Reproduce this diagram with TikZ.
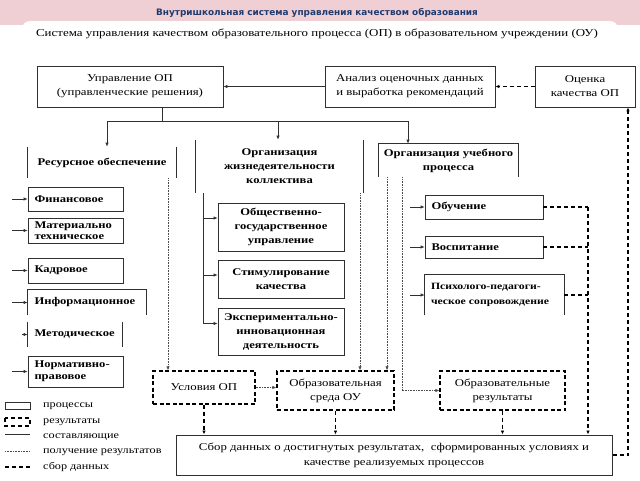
\documentclass[tikz,border=0pt]{standalone}
\usepackage{fontspec}
\setmainfont[FakeStretch=1.22]{Liberation Serif}
\newfontfamily\titlefont{DejaVu Sans}
\usetikzlibrary{arrows.meta}
\definecolor{bandpink}{HTML}{EFCFD4}
\definecolor{titleblue}{HTML}{1F3A6E}
\definecolor{lncol}{HTML}{303030}
\begin{document}
\begin{tikzpicture}[x=1pt,y=-1pt,
  box/.style={draw=lncol, line width=0.7pt, inner sep=0pt, align=center, font=\fontsize{10.5}{14}\selectfont},
  bbox/.style={box, font=\bfseries\fontsize{10.3}{14}\selectfont},
  lbox/.style={bbox, align=left, inner xsep=6.5pt},
  open/.style={draw=none},
  rbox/.style={box, draw=black, line width=1.3pt, dash pattern=on 4pt off 2.5pt},
  ln/.style={draw=lncol, line width=0.7pt},
  dsh/.style={draw=black, line width=1.1pt, dash pattern=on 4pt off 3pt},
  dot/.style={draw=black!70, line width=0.8pt, dash pattern=on 0.8pt off 0.8pt},
  arr/.style={-{Latex[length=4pt,width=3.5pt]}},
  leg/.style={anchor=west, inner sep=0pt, font=\fontsize{10}{12}\selectfont}
]
\useasboundingbox (0,0) rectangle (640,480);
\fill[white] (0,0) rectangle (640,480);
\fill[bandpink] (0,0) rectangle (640,25);
\fill[white, rounded corners=8pt] (22,21) rectangle (618,45);
\fill[white] (0,30) rectangle (640,480);

\node[font=\titlefont\bfseries\fontsize{8.9}{10}\selectfont, text=titleblue] (title) at (317,13) {Внутришкольная система управления качеством образования};
\node[font=\fontsize{10.6}{13}\selectfont] (head) at (317,34) {Система управления качеством образовательного процесса (ОП) в образовательном учреждении (ОУ)};

% top row
\node[box, minimum width=186pt, minimum height=41pt] (upr) at (130,86.5) {Управление ОП\\(управленческие решения)};
\node[box, minimum width=170pt, minimum height=41pt] (anal) at (410,86.5) {Анализ оценочных данных\\и выработка рекомендаций};
\node[box, minimum width=100pt, minimum height=41pt] (ocen) at (585,86.5) {Оценка\\качества ОП};

% column headers
\node[bbox, open, minimum width=148pt, minimum height=31pt] (res) at (102,162.5) {Ресурсное обеспечение};
\draw[ln] (res.north west) -- (res.south west) (res.north east) -- (res.south east);
\node[bbox, open, minimum width=167pt, minimum height=53pt] (orgz) at (279.5,166.5) {Организация\\жизнедеятельности\\коллектива};
\draw[ln] (orgz.north west) -- (orgz.south west) (orgz.north east) -- (orgz.south east);
\node[bbox, open, minimum width=139pt, minimum height=33pt] (orgu) at (448.5,160.5) {Организация учебного\\процесса};
\draw[ln] (orgu.south west) -- (orgu.north west) -- (orgu.north east) -- (orgu.south east);

% left column
\node[lbox, text width=82pt, minimum height=24pt] (fin) at (75.5,199) {Финансовое};
\node[lbox, text width=82pt, minimum height=25pt, font=\bfseries\fontsize{10.3}{11.5}\selectfont] (mat) at (75.5,230.5) {Материально\\техническое};
\node[lbox, text width=82pt, minimum height=25pt] (kad) at (75.5,270.5) {Кадровое};
\node[lbox, open, text width=105pt, minimum height=25pt] (inf) at (87,302.5) {Информационное};
\draw[ln] (inf.south west) -- (inf.north west) -- (inf.north east) -- (inf.south east);
\node[lbox, open, text width=81pt, minimum height=25pt] (met) at (75,334.5) {Методическое};
\draw[ln] (met.north west) -- (met.south west) (met.north east) -- (met.south east);
\node[lbox, text width=82pt, minimum height=31pt, font=\bfseries\fontsize{10.3}{12}\selectfont] (norm) at (75.5,371.5) {Нормативно-\\правовое};

% middle column
\node[bbox, minimum width=126pt, minimum height=48pt] (ob1) at (281,227) {Общественно-\\государственное\\управление};
\node[bbox, minimum width=126pt, minimum height=38pt] (ob2) at (281,279) {Стимулирование\\качества};
\node[bbox, minimum width=126pt, minimum height=47pt] (ob3) at (281,331.5) {Экспериментально-\\инновационная\\деятельность};

% right column
\node[lbox, text width=105pt, minimum height=24pt] (obuch) at (484,207) {Обучение};
\node[lbox, text width=105pt, minimum height=22pt] (vosp) at (484,247) {Воспитание};
\node[lbox, open, text width=127pt, inner xsep=6pt, minimum height=40pt, font=\bfseries\fontsize{9.6}{15}\selectfont] (psych) at (494.5,295) {\mbox{Психолого-педагоги-}\\\mbox{ческое сопровождение}};
\draw[ln] (psych.south west) -- (psych.north west) -- (psych.north east) -- (psych.south east);

% results
\node[rbox, minimum width=102pt, minimum height=33pt] (uslov) at (204,387.5) {Условия ОП};
\node[rbox, minimum width=117pt, minimum height=39pt] (sreda) at (335.5,390.5) {Образовательная\\среда ОУ};
\node[rbox, minimum width=125pt, minimum height=39pt] (rezult) at (502.5,390.5) {Образовательные\\результаты};
\node[box, line width=1pt, minimum width=436pt, minimum height=40pt, font=\fontsize{10.5}{15}\selectfont] (sbor) at (394,455) {Сбор данных о достигнутых результатах, \ сформированных условиях и\\качестве реализуемых процессов};

% top connectors
\draw[ln,arr] (anal) -- (upr);
\draw[dsh,arr] (ocen) -- (anal);
\coordinate (jU) at (162,121);
\coordinate (jL) at (107,121);
\coordinate (jM) at (278,121);
\coordinate (jR) at (408,121);
\draw[ln] (upr.south -| jU) -- (jU);
\draw[ln] (jL) -- (jR);
\draw[ln,arr] (jL) -- (jL |- res.north);
\draw[ln,arr] (jM) -- (jM |- orgz.north);
\draw[ln,arr] (jR) -- (jR |- orgu.north);

% left stubs
\coordinate (sL) at (12,0);
\foreach \n in {fin,mat,kad,inf,norm}{\draw[ln,arr] (sL |- \n.west) -- (\n.west);}
\coordinate (sM) at (22,0);
\draw[ln,arr] (sM |- met.west) -- (met.west);

% middle branch
\coordinate (zb) at (203,0);
\coordinate (t1) at ([yshift=9pt]ob1.west);
\coordinate (t2) at ([yshift=4pt]ob2.west);
\coordinate (t3) at ([yshift=8pt]ob3.west);
\draw[ln,arr] (zb |- orgz.south) |- (t3);
\draw[ln,arr] (zb |- t1) -- (t1);
\draw[ln,arr] (zb |- t2) -- (t2);

% right stubs
\coordinate (ub) at (410,0);
\foreach \n in {obuch,vosp,psych}{\draw[ln,arr] (ub |- \n.west) -- (\n.west);}

% dotted (results obtained)
\coordinate (dA) at (168,0);
\coordinate (dB) at (360,0);
\coordinate (dC) at (387,0);
\coordinate (dD) at (402,0);
\draw[dot,arr] (dA |- res.south) -- (dA |- uslov.north);
\draw[dot,arr] (dB |- orgz.south) -- (dB |- sreda.north);
\draw[dot,arr] (dC |- orgu.south) -- (dC |- sreda.north);
\draw[dot,arr] (dD |- orgu.south) |- (rezult.west);
\draw[dot,arr] (uslov.east) -- (uslov.east -| sreda.west);

% dashed (data collection)
\coordinate (dR) at (588,0);
\draw[dsh] (obuch.east) -- (obuch.east -| dR);
\draw[dsh] (vosp.east) -- (vosp.east -| dR);
\draw[dsh] (psych.east) -- (psych.east -| dR);
\draw[dsh,arr] (obuch.east -| dR) -- (dR |- sbor.north);
\draw[dsh,arr] (uslov.south) -- (uslov.south |- sbor.north);
\draw[dsh,arr] (sreda.south) -- (sreda.south |- sbor.north);
\draw[dsh,arr] (rezult.south) -- (rezult.south |- sbor.north);
\coordinate (dE) at (628,0);
\draw[dsh,arr] (sbor.east) -| (dE |- ocen.south);

% legend
\draw[ln] (5,402) rectangle (30,409);
\node[leg] (l1) at (43,406) {процессы};
\draw[dsh] (5,418) rectangle (30,426);
\node[leg] (l2) at (43,422) {результаты};
\draw[ln] (5,434) -- (30,434);
\node[leg] (l3) at (43,437) {составляющие};
\draw[dot] (5,451) -- (30,451);
\node[leg] (l4) at (43,452) {получение результатов};
\draw[dsh] (5,467) -- (30,467);
\node[leg] (l5) at (43,467) {сбор данных};
\end{tikzpicture}
\end{document}
